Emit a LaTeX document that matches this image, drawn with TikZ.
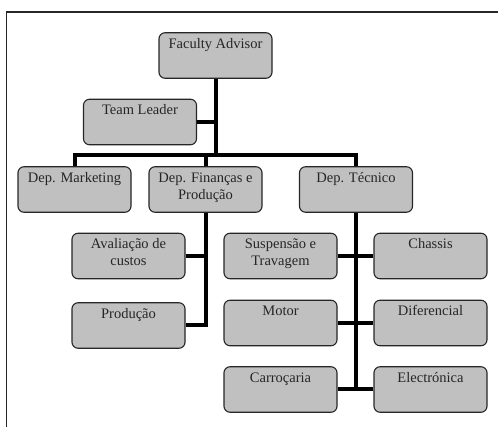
\documentclass[tikz,border=0pt]{standalone}
\usepackage{fontspec}
\setmainfont{Liberation Serif}
\usetikzlibrary{positioning}
\definecolor{boxgray}{HTML}{C0C0C0}
\definecolor{inkgray}{HTML}{262626}
\tikzset{
  orgbox/.style = {draw=inkgray, fill=boxgray, rounded corners=6pt, line width=1.1pt,
                   minimum width=113pt, minimum height=45.5pt, inner sep=0pt,
                   align=center, text=inkgray, font=\fontsize{14.5}{17}\selectfont,
                   text height=15.5pt, text depth=30pt},
  orgbox2/.style = {orgbox, text height=32.5pt, text depth=13pt},
  orgline/.style = {black, line width=4pt},
}

\begin{document}
\begin{tikzpicture}[x=1pt,y=-1pt]
      \useasboundingbox (0,0) rectangle (498,427);
      \draw[inkgray, line width=1.3pt] (6.5,427) -- (6.5,12) -- (498,12);

      \node[orgbox] (fa) at (215.5,55.5) {Faculty Advisor};
      \node[orgbox] (tl) at (140,122) {Team Leader};
      \node[orgbox] (mkt) at (74.5,189.5) {Dep. Marketing};
      \node[orgbox2] (fin) at (205.5,189.5) {Dep. Finanças e\\Produção};
      \node[orgbox] (tec) at (356,189.5) {Dep. Técnico};
      \node[orgbox2] (ava) at (128.5,256) {Avaliação de\\custos};
      \node[orgbox] (prod) at (128.5,325.5) {Produção};
      \node[orgbox2] (sus) at (280.5,256) {Suspensão e\\Travagem};
      \node[orgbox] (cha) at (430.5,256) {Chassis};
      \node[orgbox] (mot) at (280.5,323) {Motor};
      \node[orgbox] (dif) at (430.5,323) {Diferencial};
      \node[orgbox] (car) at (280.5,389.5) {Carroçaria};
      \node[orgbox] (ele) at (430.5,389.5) {Electrónica};
      \coordinate (bus) at (215.5,155);

      \draw[orgline] (fa.south) -- (bus);
      \draw[orgline] (tl.east) -- (tl.east -| bus);
      \draw[orgline] (mkt.north) |- (bus) -| (tec.north);
      \draw[orgline] (fin.north) -- (fin.north |- bus);
      \draw[orgline] (fin.south) |- (prod.east);
      \draw[orgline] (ava.east) -- (ava.east -| fin.south);
      \draw[orgline] (tec.south) |- (car.east);
      \draw[orgline] (ele.west) -- (ele.west -| tec.south);
      \draw[orgline] (sus.east) -- (cha.west);
      \draw[orgline] (mot.east) -- (dif.west);
\end{tikzpicture}
\end{document}
